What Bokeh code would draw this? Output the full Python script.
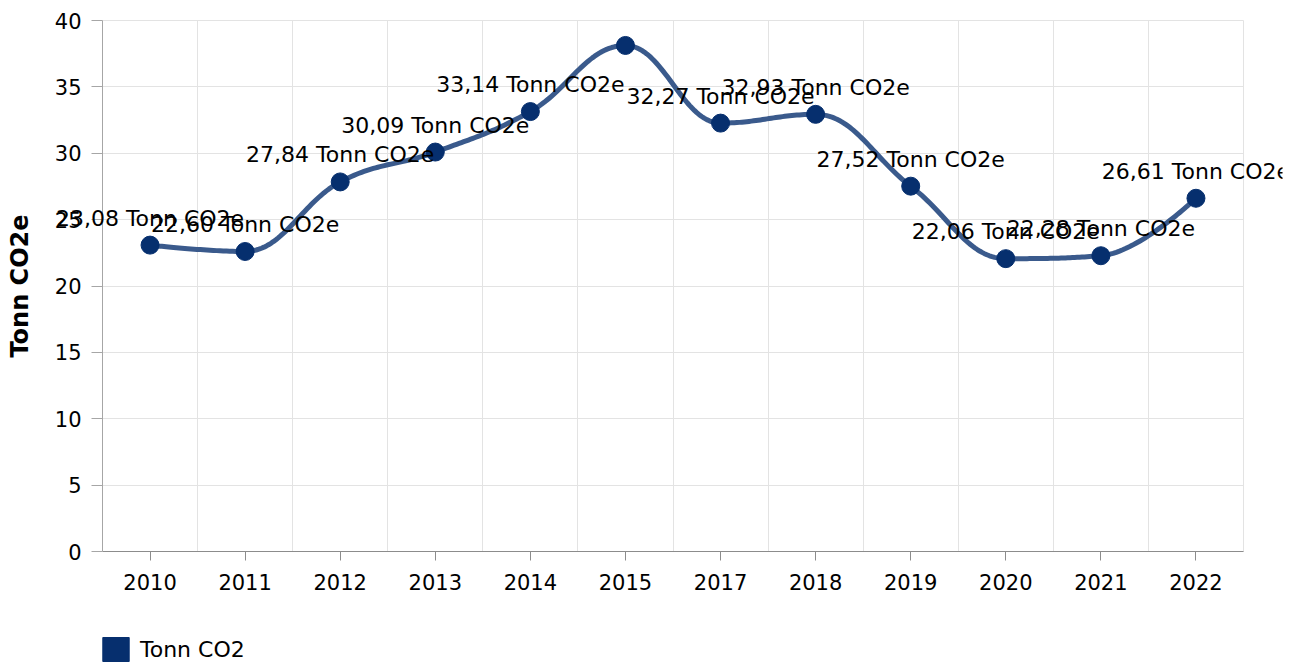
import numpy as np
from bokeh.plotting import figure
from bokeh.models import (ColumnDataSource, FixedTicker, Label, Legend, LegendItem)
from bokeh.embed import file_html
from bokeh.resources import INLINE

# ---- data ----
years = ["2010", "2011", "2012", "2013", "2014", "2015", "2017", "2018", "2019", "2020", "2021", "2022"]
values = [23.08, 22.60, 27.84, 30.09, 33.14, 38.12, 32.27, 32.93, 27.52, 22.06, 22.28, 26.61]
label_shown = [True, True, True, True, True, False, True, True, True, True, True, True]
series_name = "Tonn CO2"
y_title = "Tonn CO2e"
unit = "Tonn CO2e"
y_ticks = [0, 5, 10, 15, 20, 25, 30, 35, 40]

FONT = "DejaVu Sans"
LINE_COLOR = "#3a5a8c"
MARK_COLOR = "#062f6e"
W, H = 1299, 664
PLOT_L, PLOT_R, PLOT_T, PLOT_B = 102, 1243, 20, 551   # plot-area box in pixels
CLIP_R = 1282                                         # right edge where labels are cut
Y_MIN, Y_MAX = 0, 40

n = len(years)
xs = [i + 0.5 for i in range(n)]

# ---- Highcharts-like spline through the points (rendering only) ----
def spline_path(px, py, smoothing=1.5, steps=40):
    denom = smoothing + 1
    m = len(px)
    lc = [(px[i], py[i]) for i in range(m)]
    rc = [(px[i], py[i]) for i in range(m)]
    for i in range(1, m - 1):
        x, y = px[i], py[i]
        lx, ly = px[i - 1], py[i - 1]
        nx, ny = px[i + 1], py[i + 1]
        lcx = (smoothing * x + lx) / denom
        lcy = (smoothing * y + ly) / denom
        rcx = (smoothing * x + nx) / denom
        rcy = (smoothing * y + ny) / denom
        corr = 0.0
        if rcx != lcx:
            corr = ((rcy - lcy) * (rcx - x)) / (rcx - lcx) + y - rcy
        lcy += corr
        rcy += corr
        if lcy > ly and lcy > y:
            lcy = max(ly, y); rcy = 2 * y - lcy
        elif lcy < ly and lcy < y:
            lcy = min(ly, y); rcy = 2 * y - lcy
        if rcy > ny and rcy > y:
            rcy = max(ny, y); lcy = 2 * y - rcy
        elif rcy < ny and rcy < y:
            rcy = min(ny, y); lcy = 2 * y - rcy
        lc[i] = (lcx, lcy)
        rc[i] = (rcx, rcy)
    out_x, out_y = [px[0]], [py[0]]
    t = np.linspace(0, 1, steps)[1:]
    for i in range(1, m):
        p0 = np.array([px[i - 1], py[i - 1]])
        p1 = np.array(rc[i - 1])
        p2 = np.array(lc[i])
        p3 = np.array([px[i], py[i]])
        for tt in t:
            b = ((1 - tt) ** 3) * p0 + 3 * ((1 - tt) ** 2) * tt * p1 + 3 * (1 - tt) * tt ** 2 * p2 + tt ** 3 * p3
            out_x.append(b[0]); out_y.append(b[1])
    return out_x, out_y

cx, cy = spline_path(xs, values)

# frame covers (almost) the whole canvas so that data labels are not clipped
# at the plot area; the axes are pinned at the data origin.
xu = (PLOT_R - PLOT_L) / n
yu = (PLOT_B - PLOT_T) / (Y_MAX - Y_MIN)
x_range = (-PLOT_L / xu, n + (CLIP_R - PLOT_R) / xu)
y_range = (Y_MIN - (H - PLOT_B) / yu, Y_MAX + PLOT_T / yu)

p = figure(width=W, height=H, output_backend="svg", toolbar_location=None,
           x_range=x_range, y_range=y_range,
           min_border=0, min_border_right=W - CLIP_R)
p.outline_line_color = None
p.background_fill_color = "white"
p.border_fill_color = "white"

# grids
p.xgrid.ticker = FixedTicker(ticks=list(range(1, n + 1)))
p.xgrid.grid_line_color = "#e3e3e3"
p.ygrid.ticker = FixedTicker(ticks=y_ticks)
p.ygrid.grid_line_color = "#e3e3e3"
p.xgrid.bounds = (1, n)
p.ygrid.bounds = (Y_MIN, Y_MAX)
p.xgrid.cross_bounds = (Y_MIN, Y_MAX)
p.ygrid.cross_bounds = (0, n)

# line
p.line(cx, cy, line_color=LINE_COLOR, line_width=5, line_join="round", line_cap="round")
# markers
src = ColumnDataSource(dict(x=xs, y=values))
p.scatter("x", "y", source=src, size=18, fill_color=MARK_COLOR, line_color=MARK_COLOR)

for x, v, s in zip(xs, values, label_shown):
    if not s:
        continue
    p.add_layout(Label(x=x, y=v, text=f"{v:.2f}".replace(".", ",") + " " + unit,
                       text_align="center", text_baseline="alphabetic", y_offset=27,
                       text_font=FONT, text_font_size="22px", text_color="#000000"))

# axes
p.xaxis.fixed_location = Y_MIN
p.xaxis.bounds = (0, n)
p.xaxis.ticker = FixedTicker(ticks=xs)
p.xaxis.major_label_overrides = {x: y for x, y in zip(xs, years)}
p.xaxis.major_label_text_font = FONT
p.xaxis.major_label_text_font_size = "21px"
p.xaxis.major_label_text_color = "#000000"
p.xaxis.major_label_standoff = 13
p.xaxis.axis_line_color = "#8c8c8c"
p.xaxis.major_tick_line_color = "#8c8c8c"
p.xaxis.major_tick_out = 9
p.xaxis.major_tick_in = 0
p.xaxis.minor_tick_line_color = None

p.yaxis.fixed_location = 0
p.yaxis.bounds = (Y_MIN, Y_MAX)
p.yaxis.ticker = FixedTicker(ticks=y_ticks)
p.yaxis.major_label_text_font = FONT
p.yaxis.major_label_text_font_size = "21px"
p.yaxis.major_label_text_color = "#000000"
p.yaxis.major_label_standoff = 10
p.yaxis.axis_line_color = "#a6a6a6"
p.yaxis.major_tick_line_color = "#a6a6a6"
p.yaxis.major_tick_out = 11
p.yaxis.major_tick_in = 0
p.yaxis.minor_tick_line_color = None
p.yaxis.axis_label = y_title
p.yaxis.axis_label_text_font = FONT
p.yaxis.axis_label_text_font_style = "bold"
p.yaxis.axis_label_text_font_size = "24px"
p.yaxis.axis_label_text_color = "#000000"
p.yaxis.axis_label_standoff = 18

# legend
leg_r = p.quad(left=[np.nan], right=[np.nan], top=[np.nan], bottom=[np.nan],
               fill_color=MARK_COLOR, line_color=MARK_COLOR)
legend = Legend(items=[LegendItem(label=series_name, renderers=[leg_r])],
                location=(PLOT_L - 3, 0), orientation="horizontal",
                glyph_width=33, glyph_height=30, padding=0, margin=0, spacing=0,
                label_text_font=FONT, label_text_font_size="22px", label_text_color="#000000",
                label_standoff=8, border_line_color=None, background_fill_alpha=0)
p.add_layout(legend, "center")

open("out.html", "w").write(file_html(p, INLINE))
